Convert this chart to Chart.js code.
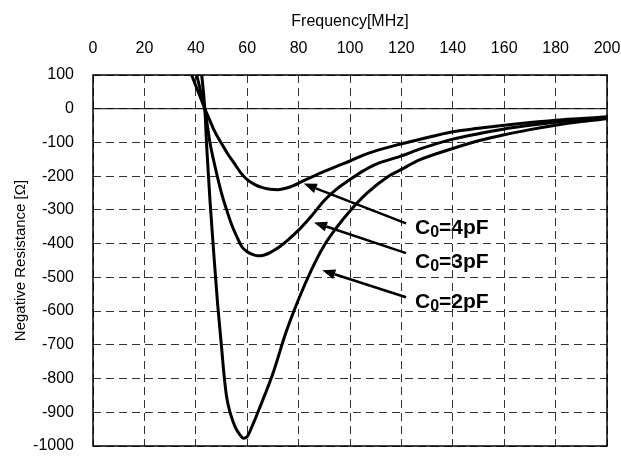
<!DOCTYPE html>
<html>
<head>
<script src="https://cdn.jsdelivr.net/npm/chart.js@4"></script>
<style>
  body { margin: 0; background: #fff; }
  #wrap { width: 621px; height: 457px; }
</style>
</head>
<body>
<div id="wrap"><canvas id="chart"></canvas></div>
<script>
// frequency [MHz] / negative resistance [ohm]
const freq2pF = [41.5, 42.3, 43.5, 44.3, 45.5, 47, 48.5, 50, 51, 52, 53.5, 55.3, 57, 58.5, 60, 62, 65, 70, 75, 80, 85, 90, 95, 100, 106.5, 115, 120, 127, 140, 150, 160, 170, 180, 190, 200];
const res2pF  = [150, 100, 0, -120, -270, -430, -580, -705, -790, -855, -905, -943, -965, -977, -972, -940, -884, -785, -665, -565, -478, -405, -350, -303, -251, -200, -180, -152, -118, -95, -77, -62, -49, -38, -30];

const freq3pF = [39, 40.3, 42, 43.5, 45.5, 47.5, 50, 52, 54, 56, 58, 60, 62, 64, 66, 68, 70, 73, 76, 80, 85, 90, 95, 100, 105, 110, 120, 127, 140, 150, 160, 170, 180, 190, 200];
const res3pF  = [125, 100, 48, 0, -100, -172, -250, -300, -345, -380, -410, -424, -432, -436, -435, -430, -422, -407, -388, -360, -318, -272, -237, -210, -185, -165, -140, -120, -90, -74, -60, -49, -40, -33, -27];

const freq4pF = [37, 38.4, 40, 42, 43.5, 45, 47, 50, 52.5, 55, 57.5, 60, 63, 66, 69, 72, 75, 78, 81, 85, 90, 95, 100, 105, 110, 118, 127, 140, 150, 160, 170, 180, 190, 200];
const res4pF  = [130, 100, 68, 30, 0, -26, -62, -103, -135, -162, -190, -210, -225, -234, -239, -240, -236, -228, -217, -203, -186, -170, -155, -138, -125, -108, -91, -68, -58, -49, -41, -34, -29, -24];

const xTicks = [0, 20, 40, 60, 80, 100, 120, 140, 160, 180, 200];
const yTicks = [100, 0, -100, -200, -300, -400, -500, -600, -700, -800, -900, -1000];

// callouts: label, text anchor, arrow tail, arrow tip (data units)
const noteLabels = ['4pF', '3pF', '2pF'];
const noteText = [[125.3, -354], [125.3, -455], [125.3, -574]];
const noteTail = [[121.8, -340], [121.8, -428], [121.8, -559]];
const noteTip  = [[82, -222], [86, -337], [89.2, -479]];

const FONT = "'Liberation Sans', Arial, sans-serif";

function pts(xs, ys) {
  return xs.map((x, i) => ({x: x, y: ys[i]}));
}

const framePlugin = {
  id: 'frame',
  beforeDatasetsDraw(chart) {
    const {ctx, chartArea: a, scales} = chart;
    const y0 = scales.y.getPixelForValue(0);
    ctx.save();
    ctx.strokeStyle = '#000';
    ctx.lineWidth = 1;
    ctx.beginPath();
    ctx.moveTo(a.left, y0);
    ctx.lineTo(a.right, y0);
    ctx.stroke();
    ctx.lineWidth = 1.5;
    ctx.strokeRect(a.left, a.top, a.right - a.left, a.bottom - a.top);
    ctx.restore();
  }
};

const notesPlugin = {
  id: 'notes',
  afterDatasetsDraw(chart) {
    const {ctx, scales} = chart;
    const px = p => [scales.x.getPixelForValue(p[0]), scales.y.getPixelForValue(p[1])];
    ctx.save();
    ctx.strokeStyle = '#000';
    ctx.fillStyle = '#000';
    ctx.lineWidth = 2.5;
    noteLabels.forEach((lab, i) => {
      const [tx, ty] = px(noteTail[i]);
      const [hx, hy] = px(noteTip[i]);
      const ang = Math.atan2(hy - ty, hx - tx);
      const len = 13, w = 5;
      const bx = hx - len * Math.cos(ang), by = hy - len * Math.sin(ang);
      ctx.beginPath();
      ctx.moveTo(tx, ty);
      ctx.lineTo(bx, by);
      ctx.stroke();
      ctx.beginPath();
      ctx.moveTo(hx, hy);
      ctx.lineTo(bx + w * Math.sin(ang), by - w * Math.cos(ang));
      ctx.lineTo(bx - w * Math.sin(ang), by + w * Math.cos(ang));
      ctx.closePath();
      ctx.fill();

      let [x, y] = px(noteText[i]);
      ctx.textBaseline = 'middle';
      ctx.textAlign = 'left';
      ctx.font = 'bold 21px ' + FONT;
      ctx.fillText('C', x, y);
      x += ctx.measureText('C').width;
      ctx.font = 'bold 16px ' + FONT;
      ctx.fillText('0', x, y + 4);
      x += ctx.measureText('0').width;
      ctx.font = 'bold 21px ' + FONT;
      ctx.fillText('=' + lab, x, y);
    });
    ctx.restore();
  }
};

function curve(xs, ys) {
  return {
    data: pts(xs, ys),
    borderColor: '#000',
    borderWidth: 3,
    pointRadius: 0,
    fill: false,
    cubicInterpolationMode: 'monotone',
    clip: 0
  };
}

new Chart(document.getElementById('chart'), {
  type: 'line',
  data: {
    datasets: [curve(freq2pF, res2pF), curve(freq3pF, res3pF), curve(freq4pF, res4pF)]
  },
  options: {
    responsive: true,
    maintainAspectRatio: false,
    animation: false,
    layout: { padding: { top: 0, left: 0, right: 14, bottom: 11 } },
    plugins: { legend: { display: false }, tooltip: { enabled: false } },
    scales: {
      x: {
        type: 'linear',
        position: 'top',
        min: 0, max: 200,
        afterBuildTicks: s => { s.ticks = xTicks.map(v => ({value: v})); },
        afterFit: s => { s.height = 75; s.paddingLeft = 0; s.paddingRight = 0; },
        ticks: { color: '#000', font: { family: FONT, size: 16 }, padding: 17, maxRotation: 0, callback: v => String(v) },
        grid: { color: '#333', lineWidth: 1, drawTicks: false },
        border: { display: false, dash: [8, 5] },
        title: { display: true, text: 'Frequency[MHz]', color: '#000', font: { family: FONT, size: 16 }, padding: { top: 12, bottom: 0 } }
      },
      y: {
        type: 'linear',
        min: -1000, max: 100,
        afterBuildTicks: s => { s.ticks = yTicks.map(v => ({value: v})); },
        afterFit: s => { s.width = 93; s.paddingTop = 0; s.paddingBottom = 0; },
        ticks: { color: '#000', font: { family: FONT, size: 16 }, padding: 19, callback: v => String(v) },
        grid: { color: '#333', lineWidth: 1, drawTicks: false },
        border: { display: false, dash: [8, 5] },
        title: { display: true, text: 'Negative Resistance [Ω]', color: '#000', font: { family: FONT, size: 15 }, padding: { top: 12, bottom: 0 } }
      }
    }
  },
  plugins: [framePlugin, notesPlugin]
});
</script>
</body>
</html>
